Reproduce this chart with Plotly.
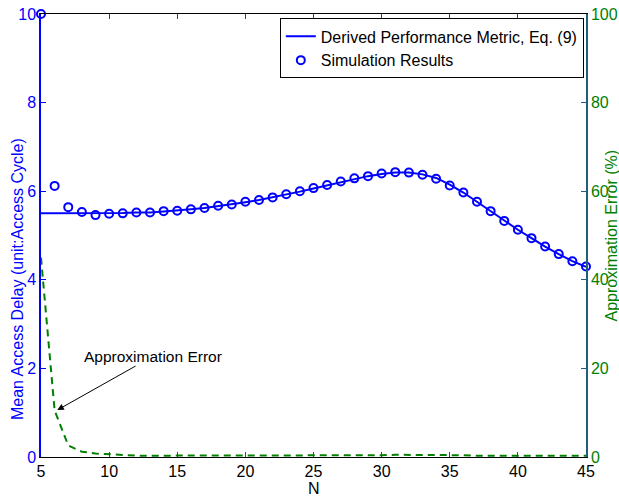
import plotly.graph_objects as go

N = list(range(5, 46))
sim_delay = [10.0, 6.12, 5.64, 5.53, 5.46, 5.49, 5.50, 5.52, 5.52, 5.55, 5.56, 5.59, 5.62, 5.67, 5.70,
             5.76, 5.80, 5.86, 5.93, 6.00, 6.07, 6.14, 6.22, 6.29, 6.34, 6.40, 6.43, 6.42, 6.37, 6.28,
             6.13, 5.97, 5.76, 5.55, 5.33, 5.13, 4.94, 4.75, 4.58, 4.42, 4.30]
derived_delay = [5.50, 5.50, 5.50, 5.50, 5.50, 5.50, 5.51, 5.52, 5.52, 5.54, 5.56, 5.59, 5.62, 5.66, 5.70,
                 5.75, 5.80, 5.86, 5.92, 5.99, 6.06, 6.13, 6.21, 6.28, 6.34, 6.39, 6.42, 6.42, 6.38, 6.30,
                 6.15, 5.97, 5.76, 5.54, 5.33, 5.13, 4.94, 4.75, 4.58, 4.42, 4.29]
approx_error = [45.0, 10.5, 2.6, 1.2, 0.8, 0.6, 0.4, 0.3, 0.3, 0.3, 0.3, 0.3, 0.3, 0.3, 0.3,
                0.3, 0.3, 0.3, 0.3, 0.3, 0.3, 0.3, 0.3, 0.3, 0.3, 0.4, 0.5, 0.5, 0.5, 0.5,
                0.5, 0.4, 0.3, 0.3, 0.3, 0.3, 0.3, 0.3, 0.3, 0.3, 0.3]

x_ticks = [5, 10, 15, 20, 25, 30, 35, 40, 45]
y_left_ticks = [0, 2, 4, 6, 8, 10]
y_right_ticks = [0, 20, 40, 60, 80, 100]

BLUE = "#0000ff"
GREEN = "#008000"
RIGHT_LINE = "#1f5f78"
FONT = "Liberation Sans, Arial, sans-serif"
FS = 16

fig = go.Figure()
fig.add_trace(go.Scatter(x=N, y=approx_error, yaxis="y2", mode="lines",
                         line=dict(color=GREEN, width=2, dash="7px,5px"),
                         showlegend=False, cliponaxis=False))
fig.add_trace(go.Scatter(x=N, y=derived_delay, mode="lines",
                         line=dict(color=BLUE, width=2),
                         name="Derived Performance Metric, Eq. (9)"))
fig.add_trace(go.Scatter(x=N, y=sim_delay, mode="markers",
                         marker=dict(symbol="circle-open", color=BLUE, size=8, line=dict(width=2)),
                         name="Simulation Results", cliponaxis=False))

fig.add_annotation(x=6.2, y=1.06, xref="x", yref="y", text="Approximation Error",
                   showarrow=True, arrowhead=2, arrowsize=1.3, arrowwidth=1, arrowcolor="black",
                   ax=96, ay=-54, font=dict(family=FONT, size=15.5, color="black"))

# axis titles as positioned text
fig.add_annotation(x=-0.042, y=0.402, xref="paper", yref="paper", textangle=-90,
                   text="Mean Access Delay (unit:Access Cycle)", showarrow=False,
                   xanchor="center", yanchor="middle", font=dict(family=FONT, size=FS, color=BLUE))
fig.add_annotation(x=1.0477, y=0.5, xref="paper", yref="paper", textangle=-90,
                   text="Approximation Error (%)", showarrow=False,
                   xanchor="center", yanchor="middle", font=dict(family=FONT, size=FS, color=GREEN))
fig.add_annotation(x=0.5, y=-0.072, xref="paper", yref="paper",
                   text="N", showarrow=False,
                   xanchor="center", yanchor="middle", font=dict(family=FONT, size=FS, color="black"))

fig.update_layout(
    width=619, height=497,
    margin=dict(l=41, r=33, t=14, b=40),
    paper_bgcolor="white", plot_bgcolor="white",
    font=dict(family=FONT, size=FS, color="black"),
    xaxis=dict(range=[5, 45], tickvals=x_ticks, ticks="inside", ticklen=5, automargin=False,
               showline=True, linecolor="black", linewidth=1, mirror="ticks",
               showgrid=False, zeroline=False, tickfont=dict(size=FS, color="black")),
    yaxis=dict(range=[0, 10], tickvals=y_left_ticks, ticks="inside", ticklen=5, automargin=False,
               showline=True, linecolor=BLUE, linewidth=1.5, tickcolor=BLUE,
               showgrid=False, zeroline=False, tickfont=dict(size=FS, color=BLUE)),
    yaxis2=dict(range=[0, 100], tickvals=y_right_ticks, ticks="inside", ticklen=5, automargin=False,
                overlaying="y", side="right", showline=True, linecolor=RIGHT_LINE, linewidth=1.5,
                tickcolor=RIGHT_LINE,
                showgrid=False, zeroline=False, tickfont=dict(size=FS, color=GREEN)),
    legend=dict(x=0.996, y=0.99, xanchor="right", yanchor="top",
                bgcolor="white", bordercolor="black", borderwidth=1,
                font=dict(size=FS), tracegroupgap=0, itemwidth=30),
)

fig.write_html("out.html", config={"displayModeBar": False},
               post_script="document.body.style.margin='0';document.body.style.padding='0';document.body.style.overflow='hidden';")
